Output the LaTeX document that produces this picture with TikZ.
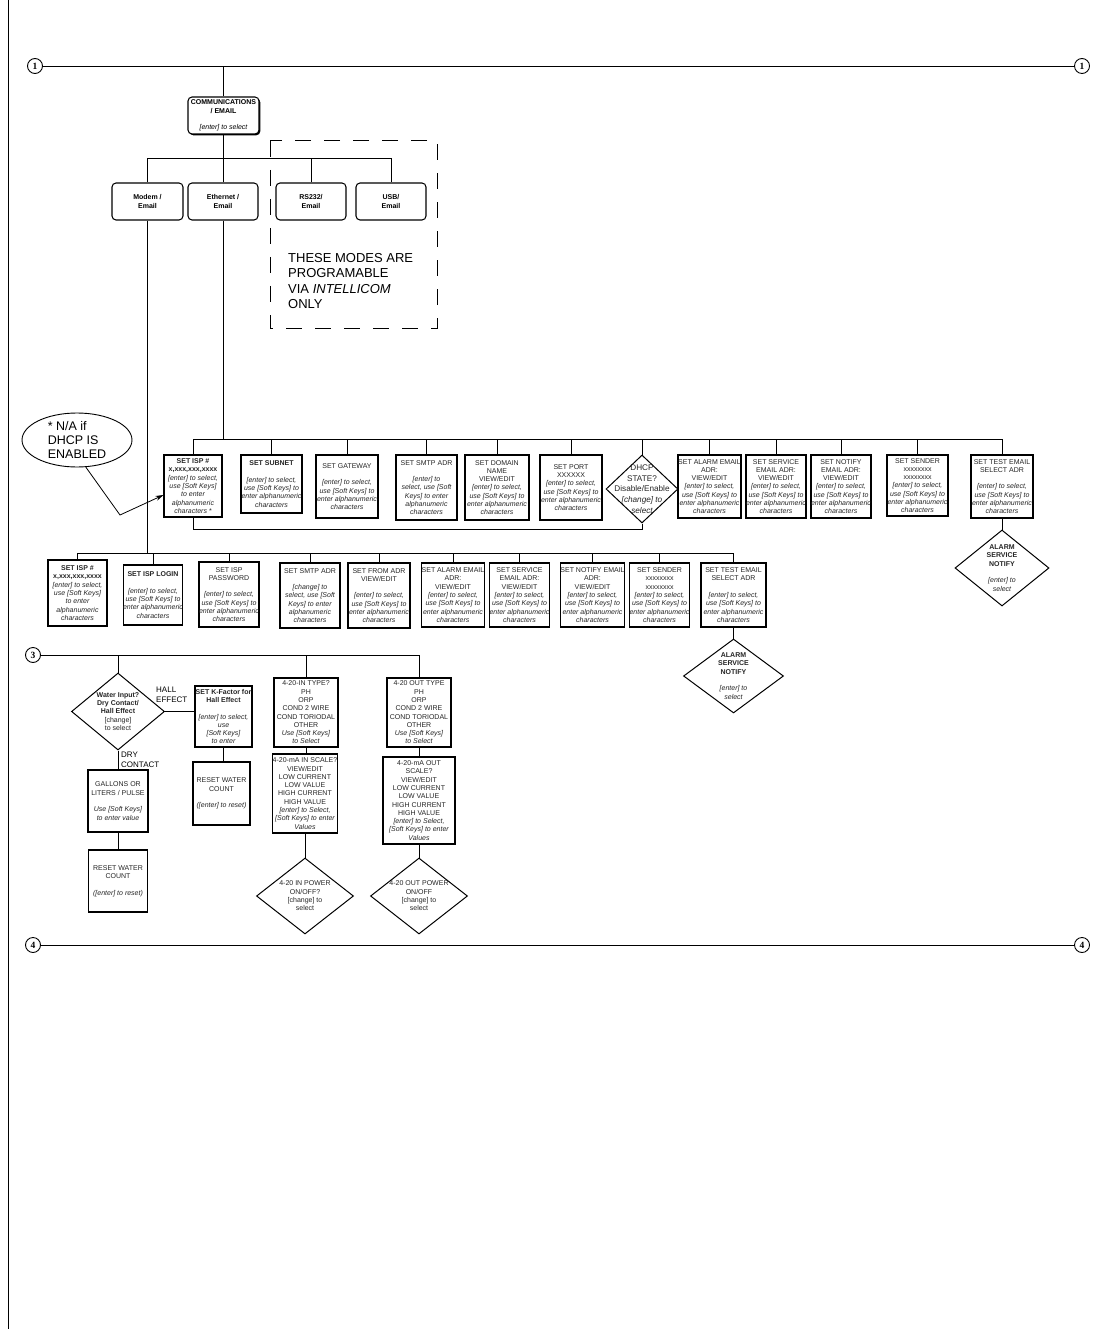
\documentclass[tikz,border=0pt]{standalone}
\usepackage{fontspec}
\setmainfont{Liberation Sans}
\newfontfamily\numfont{Liberation Serif}
\usetikzlibrary{shapes.geometric,shadows,arrows.meta}
\newcommand{\ital}[1]{{\itshape #1}}
\begin{document}
\begin{tikzpicture}[x=1pt,y=-1pt,
  txt/.style={font=\fontsize{7}{8.3}\selectfont, align=center, inner sep=0pt, text=black!85},
  box/.style={txt, rectangle, draw=black, line width=1.05pt, fill=white},
  rbox/.style={box, rounded corners=4pt, text=black},
  sh/.style={drop shadow={shadow xshift=1.3pt, shadow yshift=-1.3pt, opacity=1, fill=black}},
  dia/.style={diamond, draw=black, line width=1pt, inner sep=0pt, fill=white},
  lbl/.style={txt},
  conn/.style={line width=0.8pt},
  num/.style={circle, draw=black, line width=0.9pt, minimum size=15pt, inner sep=0pt, fill=white, font=\numfont\bfseries\fontsize{9.5}{9.5}\selectfont},
  side/.style={anchor=west, align=left, inner sep=0pt, font=\fontsize{8}{9.5}\selectfont}
]
\useasboundingbox (0,0) rectangle (1105,1329);
\fill[white] (0,0) rectangle (1105,1329);
\draw[line width=1pt] (8,0) -- (8,1329);

% ---------- top section ----------
\node[num] (c1l) at (35,66) {1};
\node[num] (c1r) at (1082,66) {1};
\draw[conn] (c1l) -- (c1r);

\node[rbox, sh, minimum width=71pt, minimum height=37pt] (comm) at (223.5,115.5)
  {\textbf{COMMUNICATIONS}\\\textbf{/ EMAIL}\\[8pt]\ital{[enter] to select}};
\draw[conn] (comm.north) -- (comm.north |- c1l);

\coordinate (tbus) at (0,158);
\node[rbox, minimum width=71pt, minimum height=37pt] (modem) at (147.5,201.5) {\textbf{Modem /}\\\textbf{Email}};
\node[rbox, minimum width=70pt, minimum height=37pt] (eth) at (223,201.5) {\textbf{Ethernet /}\\\textbf{Email}};
\node[rbox, minimum width=70pt, minimum height=37pt] (rs) at (311,201.5) {\textbf{RS232/}\\\textbf{Email}};
\node[rbox, minimum width=70pt, minimum height=37pt] (usb) at (391,201.5) {\textbf{USB/}\\\textbf{Email}};
\draw[conn] (comm.south) -- (comm.south |- tbus);
\draw[conn] (modem.north) |- (usb.north |- tbus) -- (usb.north);
\draw[conn] (eth.north) -- (eth.north |- tbus);
\draw[conn] (rs.north) -- (rs.north |- tbus);

\draw[line width=1pt, dash pattern=on 16pt off 13pt] (270,141) rectangle (437,328);
\node[anchor=west, align=left, inner sep=0pt, font=\fontsize{13}{15.6}\selectfont] (modesnote) at (288,281)
  {THESE MODES ARE\\PROGRAMABLE\\VIA \textit{INTELLICOM}\\ONLY};

% ---------- ethernet row ----------
\coordinate (ebus) at (0,439);
\coordinate (mbus) at (0,553);
\draw[conn] (eth.south) -- (eth.south |- ebus);
\draw[conn] (modem.south) -- (modem.south |- mbus);

\node[box, sh, minimum width=58pt, minimum height=62pt] (eisp) at (193,486)
  {\textbf{SET ISP \#}\\\textbf{x,xxx,xxx,xxxx}\\\ital{[enter] to select,}\\\ital{use [Soft Keys]}\\\ital{to enter}\\\ital{alphanumeric}\\\ital{characters *}};
\node[box, minimum width=61pt, minimum height=58pt] (esub) at (271.5,484)
  {\textbf{SET SUBNET}\\[8.3pt]\ital{[enter] to select,}\\\ital{use [Soft Keys] to}\\\ital{enter alphanumeric}\\\ital{characters}};
\node[box, minimum width=62pt, minimum height=63pt] (egw) at (347,486.5)
  {SET GATEWAY\\[8.3pt]\ital{[enter] to select,}\\\ital{use [Soft Keys] to}\\\ital{enter alphanumeric}\\\ital{characters}};
\node[box, minimum width=61pt, minimum height=65pt] (esmtp) at (426.5,487.5)
  {SET SMTP ADR\\[8.3pt]\ital{[enter] to}\\\ital{select, use [Soft}\\\ital{Keys] to enter}\\\ital{alphanumeric}\\\ital{characters}};
\node[box, minimum width=64pt, minimum height=65pt] (edom) at (497,487.5)
  {SET DOMAIN\\NAME\\VIEW/EDIT\\\ital{[enter] to select,}\\\ital{use [Soft Keys] to}\\\ital{enter alphanumeric}\\\ital{characters}};
\node[box, minimum width=62pt, minimum height=65pt] (eport) at (571,487.5)
  {SET PORT\\XXXXXX\\\ital{[enter] to select,}\\\ital{use [Soft Keys] to}\\\ital{enter alphanumeric}\\\ital{characters}};
\node[dia, minimum width=72pt, minimum height=68pt,
  label={[lbl, font=\fontsize{8.2}{10.6}\selectfont]center:{DHCP\\STATE?\\Disable/Enable\\\ital{[change] to}\\\ital{select}}}] (edhcp) at (642,489) {};
\node[box, minimum width=63pt, minimum height=63pt] (ealarm) at (709.5,486.5)
  {SET ALARM EMAIL\\ADR:\\VIEW/EDIT\\\ital{[enter] to select,}\\\ital{use [Soft Keys] to}\\\ital{enter alphanumeric}\\\ital{characters}};
\node[box, minimum width=60pt, minimum height=63pt] (eserv) at (776,486.5)
  {SET SERVICE\\EMAIL ADR:\\VIEW/EDIT\\\ital{[enter] to select,}\\\ital{use [Soft Keys]  to}\\\ital{enter alphanumeric}\\\ital{characters}};
\node[box, minimum width=60pt, minimum height=63pt] (enot) at (841,486.5)
  {SET NOTIFY\\EMAIL ADR:\\VIEW/EDIT\\\ital{[enter] to select,}\\\ital{use [Soft Keys]  to}\\\ital{enter alphanumeric}\\\ital{characters}};
\node[box, minimum width=61pt, minimum height=61pt] (esend) at (917.5,485.5)
  {SET SENDER\\xxxxxxxx\\xxxxxxxx\\\ital{[enter] to select,}\\\ital{use [Soft Keys]  to}\\\ital{enter alphanumeric}\\\ital{characters}};
\node[box, minimum width=62pt, minimum height=63pt] (etest) at (1002,486.5)
  {SET TEST EMAIL\\SELECT ADR\\[8.3pt]\ital{[enter] to select,}\\\ital{use [Soft Keys] to}\\\ital{enter alphanumeric}\\\ital{characters}};
\node[dia, minimum width=94pt, minimum height=76pt,
  label={[lbl]center:{\textbf{ALARM}\\\textbf{SERVICE}\\\textbf{NOTIFY}\\[8.3pt]\ital{[enter] to}\\\ital{select}}}] (ediam) at (1002,568) {};

\draw[conn] (eisp.north) |- (etest.north |- ebus) -- (etest.north);
\foreach \n in {esub,egw,esmtp,edom,eport,edhcp,ealarm,eserv,enot,esend}
  \draw[conn] (\n.north) -- (\n.north |- ebus);
\draw[conn] (eisp.south) -- ++(0,12) -| (edhcp.south);
\draw[conn] (etest.south) -- (ediam.north);

% callout
\node[ellipse, draw=black, line width=0.9pt, minimum width=110pt, minimum height=54pt, inner sep=0pt,
  label={[align=left, inner sep=0pt, font=\fontsize{12.5}{14}\selectfont]center:{* N/A if\\DHCP IS\\ENABLED}}] (note) at (77,440) {};
\coordinate (bend) at (120,515);
\draw[conn, -{Stealth[length=8pt,width=5pt]}] (note.-72) -- (bend) -- ([yshift=-9pt]eisp.west);

% ---------- modem row ----------
\node[box, minimum width=59pt, minimum height=66pt] (misp) at (77.5,593)
  {\textbf{SET ISP \#}\\\textbf{x,xxx,xxx,xxxx}\\\ital{[enter] to select,}\\\ital{use [Soft Keys]}\\\ital{to enter}\\\ital{alphanumeric}\\\ital{characters}};
\node[box, minimum width=58pt, minimum height=60pt] (mlog) at (153,595)
  {\textbf{SET ISP LOGIN}\\[8.3pt]\ital{[enter] to select,}\\\ital{use [Soft Keys] to}\\\ital{enter alphanumeric}\\\ital{characters}};
\node[box, minimum width=60pt, minimum height=65pt] (mpass) at (229,594.5)
  {SET ISP\\PASSWORD\\[8.3pt]\ital{[enter] to select,}\\\ital{use [Soft Keys] to}\\\ital{enter alphanumeric}\\\ital{characters}};
\node[box, minimum width=60pt, minimum height=65pt] (msmtp) at (310,595.5)
  {SET SMTP ADR\\[8.3pt]\ital{[change] to}\\\ital{select, use [Soft}\\\ital{Keys] to enter}\\\ital{alphanumeric}\\\ital{characters}};
\node[box, minimum width=62pt, minimum height=65pt] (mfrom) at (379,595.5)
  {SET FROM ADR\\VIEW/EDIT\\[8.3pt]\ital{[enter] to select,}\\\ital{use [Soft Keys] to}\\\ital{enter alphanumeric}\\\ital{characters}};
\node[box, minimum width=60pt, minimum height=64pt] (malarm) at (453,595)
  {SET ALARM EMAIL\\ADR:\\VIEW/EDIT\\\ital{[enter] to select,}\\\ital{use [Soft Keys] to}\\\ital{enter alphanumeric}\\\ital{characters}};
\node[box, minimum width=57pt, minimum height=64pt] (mserv) at (519.5,595)
  {SET SERVICE\\EMAIL ADR:\\VIEW/EDIT\\\ital{[enter] to select,}\\\ital{use [Soft Keys] to}\\\ital{enter alphanumeric}\\\ital{characters}};
\node[box, minimum width=61pt, minimum height=64pt] (mnot) at (592.5,595)
  {SET NOTIFY EMAIL\\ADR:\\VIEW/EDIT\\\ital{[enter] to select,}\\\ital{use [Soft Keys] to}\\\ital{enter alphanumeric}\\\ital{characters}};
\node[box, minimum width=59pt, minimum height=64pt] (msend) at (659.5,595)
  {SET SENDER\\xxxxxxxx\\xxxxxxxx\\\ital{[enter] to select,}\\\ital{use [Soft Keys]  to}\\\ital{enter alphanumeric}\\\ital{characters}};
\node[box, minimum width=65pt, minimum height=64pt] (mtest) at (733.5,595)
  {SET TEST EMAIL\\SELECT ADR\\[8.3pt]\ital{[enter] to select,}\\\ital{use [Soft Keys] to}\\\ital{enter alphanumeric}\\\ital{characters}};
\node[dia, minimum width=100pt, minimum height=74pt,
  label={[lbl]center:{\textbf{ALARM}\\\textbf{SERVICE}\\\textbf{NOTIFY}\\[8.3pt]\ital{[enter] to}\\\ital{select}}}] (mdiam) at (733.5,676) {};

\draw[conn] (misp.north) |- (mtest.north |- mbus) -- (mtest.north);
\foreach \n in {mlog,mpass,msmtp,mfrom,malarm,mserv,mnot,msend}
  \draw[conn] (\n.north) -- (\n.north |- mbus);
\draw[conn] (mtest.south) -- (mdiam.north);

% ---------- lower section ----------
\node[num] (c3) at (33,655) {3};
\node[dia, minimum width=93pt, minimum height=77pt,
  label={[lbl]center:{\textbf{Water Input?}\\\textbf{Dry Contact/}\\\textbf{Hall Effect}\\{[change]}\\to select}}] (water) at (118,711.5) {};
\node[side] (hall) at (156,695) {HALL\\EFFECT};
\node[side] (dry) at (121,760) {DRY\\CONTACT};
\node[box, minimum width=60pt, minimum height=62pt] (gal) at (118,801)
  {GALLONS OR\\LITERS / PULSE\\[8.3pt]\ital{Use [Soft Keys]}\\\ital{to enter value}};
\node[box, minimum width=59pt, minimum height=62pt] (reset1) at (118,881)
  {RESET WATER\\COUNT\\[8.3pt]\ital{([enter] to reset)}};
\node[box, minimum width=57pt, minimum height=61pt] (kbox) at (223.5,716.5)
  {\textbf{SET K-Factor for}\\\textbf{Hall Effect}\\[8.3pt]\ital{[enter] to select,}\\\ital{use}\\\ital{[Soft Keys]}\\\ital{to enter}};
\node[box, minimum width=57pt, minimum height=63pt] (reset2) at (221.5,793.5)
  {RESET WATER\\COUNT\\[8.3pt]\ital{([enter] to reset)}};
\node[box, minimum width=64pt, minimum height=69pt] (intype) at (306,712.5)
  {4-20-IN TYPE?\\PH\\ORP\\COND 2 WIRE\\COND TORIODAL\\OTHER\\\ital{Use [Soft Keys]}\\\ital{to Select}};
\node[box, minimum width=64pt, minimum height=79pt] (inscale) at (305,793.5)
  {4-20-mA IN SCALE?\\VIEW/EDIT\\LOW CURRENT\\LOW VALUE\\HIGH CURRENT\\HIGH VALUE\\\ital{[enter] to Select,}\\\ital{[Soft Keys] to enter}\\\ital{Values}};
\node[dia, minimum width=97pt, minimum height=76pt,
  label={[lbl]center:{4-20 IN POWER\\ON/OFF?\\{[change]} to\\select}}] (indiam) at (305,896) {};
\node[box, minimum width=64pt, minimum height=69pt] (outtype) at (419,712.5)
  {4-20 OUT TYPE\\PH\\ORP\\COND 2 WIRE\\COND TORIODAL\\OTHER\\\ital{Use [Soft Keys]}\\\ital{to Select}};
\node[box, minimum width=72pt, minimum height=87pt] (outscale) at (419,800.5)
  {4-20-mA OUT\\SCALE?\\VIEW/EDIT\\LOW CURRENT\\LOW VALUE\\HIGH CURRENT\\HIGH VALUE\\\ital{[enter] to Select,}\\\ital{[Soft Keys] to enter}\\\ital{Values}};
\node[dia, minimum width=97pt, minimum height=76pt,
  label={[lbl]center:{4-20 OUT POWER\\ON/OFF\\{[change]} to\\select}}] (outdiam) at (419,896) {};

\draw[conn] (c3) -- (c3 -| outtype.north) -- (outtype.north);
\draw[conn] (water.north) -- (water.north |- c3);
\draw[conn] (intype.north) -- (intype.north |- c3);
\draw[conn] (water.east) -- (water.east -| kbox.west);
\draw[conn] (water.south) -- (gal.north);
\draw[conn] (gal.south) -- (reset1.north);
\draw[conn] (kbox.south) -- (kbox.south |- reset2.north);
\draw[conn] (intype.south) -- (intype.south |- inscale.north);
\draw[conn] (inscale.south) -- (indiam.north);
\draw[conn] (outtype.south) -- (outscale.north);
\draw[conn] (outscale.south) -- (outdiam.north);

\node[num] (c4l) at (33,945) {4};
\node[num] (c4r) at (1082,945) {4};
\draw[conn] (c4l) -- (c4r);
\end{tikzpicture}
\end{document}
